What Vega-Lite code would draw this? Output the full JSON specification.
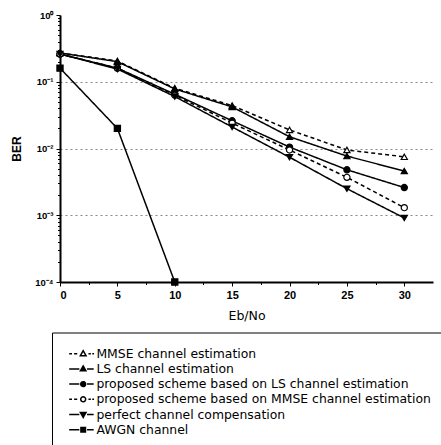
{
  "$schema": "https://vega.github.io/schema/vega-lite/v6.json",
  "width": 373,
  "height": 267,
  "autosize": {"type": "none"},
  "padding": {"left": 60, "top": 15, "right": 8, "bottom": 163},
  "background": "white",
  "config": {"view": {"stroke": null}},
  "data": {
    "values": [
      {"series": "MMSE channel estimation", "x": 0, "ber": 0.27},
      {"series": "MMSE channel estimation", "x": 5, "ber": 0.205},
      {"series": "MMSE channel estimation", "x": 10, "ber": 0.08},
      {"series": "MMSE channel estimation", "x": 15, "ber": 0.044},
      {"series": "MMSE channel estimation", "x": 20, "ber": 0.019},
      {"series": "MMSE channel estimation", "x": 25, "ber": 0.0095},
      {"series": "MMSE channel estimation", "x": 30, "ber": 0.0075},
      {"series": "LS channel estimation", "x": 0, "ber": 0.27},
      {"series": "LS channel estimation", "x": 5, "ber": 0.2},
      {"series": "LS channel estimation", "x": 10, "ber": 0.078},
      {"series": "LS channel estimation", "x": 15, "ber": 0.042},
      {"series": "LS channel estimation", "x": 20, "ber": 0.015},
      {"series": "LS channel estimation", "x": 25, "ber": 0.0077},
      {"series": "LS channel estimation", "x": 30, "ber": 0.0046},
      {"series": "proposed scheme based on LS channel estimation", "x": 0, "ber": 0.26},
      {"series": "proposed scheme based on LS channel estimation", "x": 5, "ber": 0.16},
      {"series": "proposed scheme based on LS channel estimation", "x": 10, "ber": 0.065},
      {"series": "proposed scheme based on LS channel estimation", "x": 15, "ber": 0.026},
      {"series": "proposed scheme based on LS channel estimation", "x": 20, "ber": 0.0105},
      {"series": "proposed scheme based on LS channel estimation", "x": 25, "ber": 0.0048},
      {"series": "proposed scheme based on LS channel estimation", "x": 30, "ber": 0.0026},
      {"series": "proposed scheme based on MMSE channel estimation", "x": 0, "ber": 0.26},
      {"series": "proposed scheme based on MMSE channel estimation", "x": 5, "ber": 0.16},
      {"series": "proposed scheme based on MMSE channel estimation", "x": 10, "ber": 0.063},
      {"series": "proposed scheme based on MMSE channel estimation", "x": 15, "ber": 0.024},
      {"series": "proposed scheme based on MMSE channel estimation", "x": 20, "ber": 0.0095},
      {"series": "proposed scheme based on MMSE channel estimation", "x": 25, "ber": 0.0037},
      {"series": "proposed scheme based on MMSE channel estimation", "x": 30, "ber": 0.0013},
      {"series": "perfect channel compensation", "x": 0, "ber": 0.26},
      {"series": "perfect channel compensation", "x": 5, "ber": 0.155},
      {"series": "perfect channel compensation", "x": 10, "ber": 0.06},
      {"series": "perfect channel compensation", "x": 15, "ber": 0.021},
      {"series": "perfect channel compensation", "x": 20, "ber": 0.0074},
      {"series": "perfect channel compensation", "x": 25, "ber": 0.0025},
      {"series": "perfect channel compensation", "x": 30, "ber": 0.00091},
      {"series": "AWGN channel", "x": 0, "ber": 0.16},
      {"series": "AWGN channel", "x": 5, "ber": 0.02},
      {"series": "AWGN channel", "x": 10, "ber": 0.0001}
    ]
  },
  "encoding": {
    "x": {
      "field": "x", "type": "quantitative",
      "scale": {"domain": [0, 32.5], "nice": false, "zero": false},
      "axis": {
        "title": "Eb/No",
        "values": [0, 2.5, 5, 7.5, 10, 12.5, 15, 17.5, 20, 22.5, 25, 27.5, 30],
        "labelExpr": "datum.value % 5 == 0 ? datum.label : ''",
        "tickSize": {"condition": {"test": "datum.value % 5 == 0", "value": 4}, "value": 2.5},
        "tickColor": "black",
        "tickWidth": 1,
        "domainColor": "black",
        "domainWidth": 2,
        "grid": false,
        "labelFont": "Liberation Sans",
        "labelFontWeight": "bold",
        "labelFontSize": 11,
        "labelColor": "black",
        "labelPadding": 3,
        "titleFont": "DejaVu Sans",
        "titleFontSize": 12.5,
        "titleFontWeight": "normal",
        "titleColor": "black",
        "titlePadding": 9
      }
    },
    "y": {
      "field": "ber", "type": "quantitative",
      "scale": {"type": "log", "domain": [0.0001, 1], "nice": false},
      "axis": {
        "title": "BER",
        "values": [0.0001, 0.0002, 0.0003, 0.0004, 0.0005, 0.0006, 0.0007, 0.0008, 0.0009,
                   0.001, 0.002, 0.003, 0.004, 0.005, 0.006, 0.007, 0.008, 0.009,
                   0.01, 0.02, 0.03, 0.04, 0.05, 0.06, 0.07, 0.08, 0.09,
                   0.1, 0.2, 0.3, 0.4, 0.5, 0.6, 0.7, 0.8, 0.9, 1],
        "labelExpr": "datum.value == 1 ? '10⁰' : datum.value == 0.1 ? '10⁻¹' : datum.value == 0.01 ? '10⁻²' : datum.value == 0.001 ? '10⁻³' : datum.value == 0.0001 ? '10⁻⁴' : ''",
        "tickSize": {"condition": {"test": "indexof([1, 0.1, 0.01, 0.001, 0.0001], datum.value) >= 0", "value": 4}, "value": 2.5},
        "tickColor": "black",
        "tickWidth": 1,
        "domainColor": "black",
        "domainWidth": 2,
        "grid": true,
        "gridColor": "#888888",
        "gridDash": [2, 3],
        "gridWidth": 1,
        "gridOpacity": {"condition": {"test": "indexof([0.1, 0.01, 0.001], datum.value) >= 0", "value": 1}, "value": 0},
        "labelFont": "Liberation Sans",
        "labelFontWeight": "bold",
        "labelFontSize": 9.5,
        "labelColor": "black",
        "labelPadding": 3,
        "labelFlush": false,
        "labelOverlap": false,
        "titleFont": "Liberation Sans",
        "titleFontSize": 12,
        "titleFontWeight": "bold",
        "titleColor": "black",
        "titlePadding": 11
      }
    }
  },
  "layer": [
    {
      "mark": {"type": "line", "strokeWidth": 1.5},
      "encoding": {
        "detail": {"field": "series"},
        "strokeDash": {
          "condition": {"test": "indexof(['MMSE channel estimation', 'proposed scheme based on MMSE channel estimation'], datum.series) >= 0", "value": [4, 3]},
          "value": [1, 0]
        },
        "color": {
          "field": "series", "type": "nominal",
          "scale": {
            "domain": ["MMSE channel estimation", "LS channel estimation", "proposed scheme based on LS channel estimation", "proposed scheme based on MMSE channel estimation", "perfect channel compensation", "AWGN channel"],
            "range": ["black", "black", "black", "black", "black", "black"]
          },
          "legend": {
            "title": null,
            "orient": "none",
            "legendX": -8,
            "legendY": 317.5,
            "direction": "vertical",
            "strokeColor": "black",
            "fillColor": "white",
            "padding": 15,
            "labelFont": "DejaVu Sans",
            "labelFontSize": 12.4,
            "labelColor": "black",
            "labelLimit": 600,
            "symbolSize": 49,
            "symbolStrokeWidth": 1.5,
            "symbolStrokeColor": "black",
            "symbolOffset": 10,
            "labelOffset": 7,
            "rowPadding": 2.2,
            "encoding": {
              "symbols": {
                "shape": {"value": {"expr": "datum.value == 'MMSE channel estimation' ? 'M-4,0L-3.2,0M-2.6,0L-1.7,0M1.5,0L2.2,0M2.6,0L3.1,0M0,-0.85L0.8,0.55L-0.8,0.55Z' : datum.value == 'LS channel estimation' ? 'M-4,0L-1.1,0M1.1,0L3,0M0,-0.85L0.8,0.55L-0.8,0.55Z' : datum.value == 'proposed scheme based on LS channel estimation' ? 'M-4,0L-1.1,0M1.1,0L3,0M0.7,0A0.7,0.7,0,1,1,-0.7,0A0.7,0.7,0,1,1,0.7,0Z' : datum.value == 'proposed scheme based on MMSE channel estimation' ? 'M-4,0L-3.2,0M-2.6,0L-1.7,0M1.5,0L2.2,0M2.6,0L3.1,0M0.7,0A0.7,0.7,0,1,1,-0.7,0A0.7,0.7,0,1,1,0.7,0Z' : datum.value == 'perfect channel compensation' ? 'M-4,0L-1.1,0M1.1,0L3,0M0,0.85L0.8,-0.55L-0.8,-0.55Z' : 'M-4,0L-1.1,0M1.1,0L3,0M-0.65,-0.65H0.65V0.65H-0.65Z'"}},
                "fill": {"value": {"expr": "indexof(['MMSE channel estimation', 'proposed scheme based on MMSE channel estimation'], datum.value) >= 0 ? 'white' : 'black'"}},
                "stroke": {"value": "black"},
                "strokeWidth": {"value": 1.5},
                "strokeDash": {"value": [1, 0]},
                "opacity": {"value": 1}
              }
            }
          }
        }
      }
    },
    {
      "mark": {"type": "point", "stroke": "black", "strokeWidth": 1.2, "size": 38, "opacity": 1},
      "encoding": {
        "shape": {
          "condition": [
            {"test": "datum.series == 'MMSE channel estimation' || datum.series == 'LS channel estimation'", "value": "triangle-up"},
            {"test": "datum.series == 'proposed scheme based on LS channel estimation' || datum.series == 'proposed scheme based on MMSE channel estimation'", "value": "circle"},
            {"test": "datum.series == 'perfect channel compensation'", "value": "triangle-down"}
          ],
          "value": "square"
        },
        "fill": {
          "condition": {"test": "indexof(['MMSE channel estimation', 'proposed scheme based on MMSE channel estimation'], datum.series) >= 0", "value": "white"},
          "value": "black"
        }
      }
    }
  ]
}
